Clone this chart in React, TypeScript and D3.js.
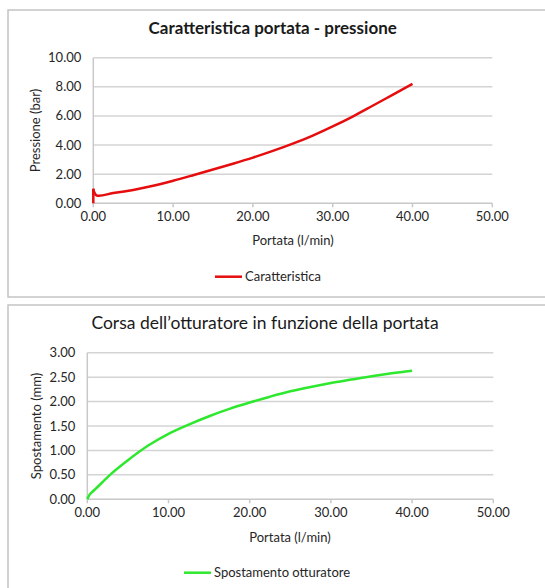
import React from 'react'
import * as d3 from 'd3'

const xTicks = [0, 10, 20, 30, 40, 50]
const pressureTicks = [0, 2, 4, 6, 8, 10]
const strokeTicks = [0, 0.5, 1, 1.5, 2, 2.5, 3]

// Caratteristica: portata (l/min) -> pressione (bar)
const portataP = [0, 0, 0.4, 2.5, 5, 7.5, 10, 12.5, 15, 17.5, 20, 22.5, 25, 27.5, 30, 32.5, 35, 37.5, 40]
const pressione = [0, 1.0, 0.55, 0.7, 0.92, 1.2, 1.55, 1.93, 2.32, 2.72, 3.14, 3.6, 4.1, 4.65, 5.28, 5.96, 6.7, 7.45, 8.2]

// Spostamento otturatore: portata (l/min) -> spostamento (mm)
const portataS = [0, 0.3, 0.8, 2, 3, 5, 7.5, 10, 12.5, 15, 17.5, 20, 22.5, 25, 27.5, 30, 32.5, 35, 37.5, 40]
const spostamento = [0, 0.1, 0.18, 0.37, 0.53, 0.8, 1.1, 1.34, 1.53, 1.7, 1.85, 1.98, 2.1, 2.21, 2.3, 2.38, 2.45, 2.52, 2.58, 2.63]

const font = 'Lato, "Open Sans", sans-serif'
const fmt = d3.format('.2f')

const Chart = ({ top, frameH, plot, title, titleX, titleSize, titleWeight, yLabel, yLabelX, xs, ys, yMax, yTicks, color, legend, legendX, legendY, xLabelX, xLabelY }) => {
  const x = d3.scaleLinear().domain([0, 50]).range([plot.left, plot.right])
  const y = d3.scaleLinear().domain([0, yMax]).range([plot.bottom, plot.top])
  const line = d3
    .line()
    .x(d => x(d[0]))
    .y(d => y(d[1]))
    .curve(d3.curveCatmullRom)
  const pts = xs.map((v, i) => [v, ys[i]])
  // a vertical start at x = 0 is drawn straight, the rest smooth
  const jump = pts[1][0] === pts[0][0]
  const pathD = line(pts.slice(jump ? 1 : 0))
  const startD = jump ? `M${x(pts[0][0])},${y(pts[0][1])}L${x(pts[1][0])},${y(pts[1][1])}` : ''
  return (
    <g>
      <rect x={8} y={top} width={560} height={frameH} fill="white" stroke="#c4c4c4" strokeWidth={1.5} />
      <text x={titleX} y={top + 24} textAnchor="middle" fontFamily={font} fontSize={titleSize} fontWeight={titleWeight} fill="#1a1a1a">
        {title}
      </text>
      {yTicks.map(t => (
        <g key={t}>
          {t > 0 && <line x1={plot.left} x2={plot.right} y1={y(t)} y2={y(t)} stroke="#d4d4d4" strokeWidth={1.5} />}
          <text x={plot.left - 12} y={y(t)} dy="0.35em" textAnchor="end" fontFamily={font} fontSize={13} fill="#262626">
            {fmt(t)}
          </text>
        </g>
      ))}
      <line x1={plot.left} x2={plot.right} y1={plot.bottom} y2={plot.bottom} stroke="#c8c8c8" strokeWidth={1.5} />
      <line x1={plot.left} x2={plot.left} y1={plot.top} y2={plot.bottom} stroke="#c8c8c8" strokeWidth={1.5} />
      {xTicks.map(t => (
        <g key={t}>
          <line x1={x(t)} x2={x(t)} y1={plot.bottom} y2={plot.bottom + 4} stroke="#c8c8c8" strokeWidth={1.5} />
          <text x={x(t)} y={plot.bottom + 18} textAnchor="middle" fontFamily={font} fontSize={13} fill="#262626">
            {fmt(t)}
          </text>
        </g>
      ))}
      <text x={xLabelX} y={xLabelY} textAnchor="middle" fontFamily={font} fontSize={13} fill="#262626">
        Portata (l/min)
      </text>
      <text
        transform={`translate(${yLabelX},${(plot.top + plot.bottom) / 2}) rotate(-90)`}
        textAnchor="middle"
        dy="0.35em"
        fontFamily={font}
        fontSize={13}
        fill="#262626"
      >
        {yLabel}
      </text>
      {startD && <path d={startD} fill="none" stroke={color} strokeWidth={2.5} />}
      <path d={pathD} fill="none" stroke={color} strokeWidth={2.5} strokeLinejoin="round" />
      <line x1={legendX} x2={legendX + 27} y1={legendY} y2={legendY} stroke={color} strokeWidth={2.5} />
      <text x={legendX + 30} y={legendY} dy="0.35em" fontFamily={font} fontSize={13} fill="#262626">
        {legend}
      </text>
    </g>
  )
}

const App = () => (
  <svg width={545} height={588} style={{ position: 'absolute', left: 0, top: 0, background: 'white' }}>
    <rect width={545} height={588} fill="white" />
    <Chart
      top={10}
      frameH={287}
      plot={{ left: 93.3, right: 492.3, top: 57.7, bottom: 203.3 }}
      title="Caratteristica portata - pressione"
      titleX={272.7}
      titleSize={17}
      titleWeight={700}
      yLabel="Pressione (bar)"
      yLabelX={35}
      xs={portataP}
      ys={pressione}
      yMax={10}
      yTicks={pressureTicks}
      color="#e50d0d"
      legend="Caratteristica"
      legendX={215}
      legendY={276.7}
      xLabelX={293}
      xLabelY={245}
    />
    <Chart
      top={305}
      frameH={300}
      plot={{ left: 87.3, right: 493.3, top: 352.7, bottom: 499.3 }}
      title="Corsa dell’otturatore in funzione della portata"
      titleX={265}
      titleSize={17.5}
      titleWeight={400}
      yLabel="Spostamento (mm)"
      yLabelX={36.7}
      xs={portataS}
      ys={spostamento}
      yMax={3}
      yTicks={strokeTicks}
      color="#2ee82e"
      legend="Spostamento otturatore"
      legendX={184}
      legendY={572.7}
      xLabelX={290}
      xLabelY={541.5}
    />
  </svg>
)

export default App
